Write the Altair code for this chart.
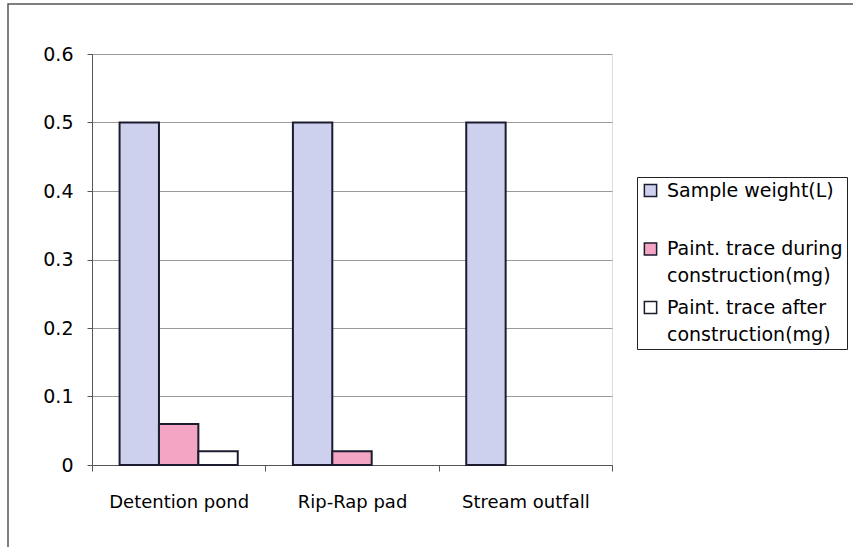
import altair as alt
import pandas as pd

categories = ["Detention pond", "Rip-Rap pad", "Stream outfall"]
series = ["Sample weight(L)", "Paint. trace during construction(mg)", "Paint. trace after construction(mg)"]
sample_weight = [0.5, 0.5, 0.5]
trace_during = [0.06, 0.02, 0.0]
trace_after = [0.02, 0.0, 0.0]
y_ticks = [0, 0.1, 0.2, 0.3, 0.4, 0.5, 0.6]
colors = ["#cdd1ee", "#f3a5c3", "#ffffff"]
legend_lines = {
    "Sample weight(L)": ["Sample weight(L)", ""],
    "Paint. trace during construction(mg)": ["Paint. trace during", "construction(mg)"],
    "Paint. trace after construction(mg)": ["Paint. trace after", "construction(mg)"],
}

rows = []
for vals, s in zip([sample_weight, trace_during, trace_after], series):
    for c, v in zip(categories, vals):
        rows.append({"Location": c, "Series": s, "Value": v})
df = pd.DataFrame(rows)

expr = "datum.label"
for k, v in reversed(list(legend_lines.items())):
    arr = "[" + ", ".join("'" + p + "'" for p in v) + "]"
    expr = f"datum.label == '{k}' ? {arr} : ({expr})"

FONT = "DejaVu Sans"
LH = 27

bars = alt.Chart(df).transform_filter("datum.Value > 0").mark_bar(
    stroke="#1c1c30", strokeWidth=2
).encode(
    x=alt.X("Location:N", sort=categories, title=None,
            scale=alt.Scale(paddingInner=0, paddingOuter=0),
            axis=alt.Axis(labelAngle=0, labelFontSize=18, labelFont=FONT, labelColor="#000",
                          tickBand="extent", tickSize=6, tickColor="#555", domainColor="#555",
                          labelPadding=22, grid=False)),
    xOffset=alt.XOffset("Series:N", sort=series,
                        scale=alt.Scale(domain=series, paddingInner=0, paddingOuter=0.7)),
    y=alt.Y("Value:Q", title=None,
            scale=alt.Scale(domain=[0, 0.6], nice=False),
            axis=alt.Axis(values=y_ticks, labelExpr="datum.value == 0 ? '0' : format(datum.value, '.1f')",
                          labelFontSize=19, labelFont=FONT, labelColor="#000",
                          tickSize=5, tickColor="#555", domainColor="#555", labelPadding=14,
                          gridColor="#9a9a9a", gridWidth=1)),
    fill=alt.Fill("Series:N", sort=series,
                  scale=alt.Scale(domain=series, range=colors),
                  legend=alt.Legend(title=None, orient="none", legendX=545, legendY=123,
                                    labelExpr=expr, labelFont=FONT, labelFontSize=19,
                                    labelColor="#000", symbolType="square", symbolSize=150,
                                    symbolStrokeColor="#1c1c30", symbolStrokeWidth=1.5,
                                    strokeColor="#222", fillColor="#fff", padding=4,
                                    rowPadding=11.5, labelLimit=260, labelOffset=7)),
)

border = alt.Chart(alt.Data(values=[{}])).mark_rect(
    fill=None, stroke="#555", strokeWidth=1.5
).encode(x=alt.value(-84), y=alt.value(-50), x2=alt.value(900), y2=alt.value(600))

chart = alt.layer(border, bars).properties(
    width=520, height=411,
    autosize=alt.AutoSizeParams(type="none"),
    padding={"left": 92, "top": 54, "right": 241, "bottom": 82},
).configure_view(stroke="#c8c8c8", strokeDash=[4, 3]).configure(
    background="#ffffff",
    style={"guide-label": {"lineHeight": LH}},
)

chart.save("out.html", embed_options={"renderer": "svg", "actions": False})
